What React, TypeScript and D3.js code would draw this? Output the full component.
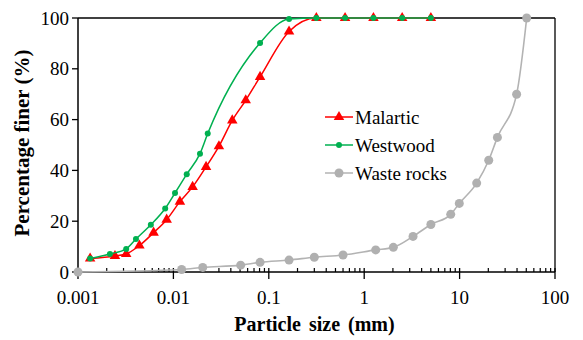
import * as d3 from 'd3'
import { useEffect, useRef } from 'react'

// particle size (mm) / percentage finer (%)
const malarticSize = [0.00134, 0.00244, 0.0032, 0.0044, 0.0062, 0.0085, 0.0117, 0.0159, 0.022, 0.03, 0.0414, 0.0573, 0.081, 0.163, 0.315, 0.63, 1.25, 2.5, 5]
const malarticPct = [5.3, 6.3, 7.1, 10.4, 15.5, 20.6, 27.7, 33.5, 41.4, 49.5, 59.7, 67.6, 76.8, 94.7, 100, 100, 100, 100, 100]

const westwoodSize = [0.00134, 0.00216, 0.0032, 0.00405, 0.0058, 0.0082, 0.0104, 0.0138, 0.019, 0.0229, 0.081, 0.163, 0.315, 0.63, 1.25, 2.5, 5]
const westwoodPct = [5.3, 7.1, 9.1, 13, 18.6, 25, 31.1, 38.5, 46.6, 54.5, 90.2, 99.6, 100, 100, 100, 100, 100]

const wasteSize = [0.001, 0.0122, 0.0203, 0.0507, 0.081, 0.163, 0.3, 0.6, 1.32, 2.02, 3.25, 5, 8.07, 9.93, 15.1, 20.2, 24.9, 39.6, 50.5]
const wastePct = [0, 1, 1.8, 2.7, 3.8, 4.7, 5.8, 6.7, 8.7, 9.7, 14, 18.7, 22.7, 27, 35, 44, 53, 70, 100]

const xTicks = [0.001, 0.01, 0.1, 1, 10, 100]
const xTickLabels = ['0.001', '0.01', '0.1', '1', '10', '100']
const yTicks = [0, 20, 40, 60, 80, 100]
const seriesNames = ['Malartic', 'Westwood', 'Waste rocks']

const W = 583
const H = 340

export default function App() {
  const ref = useRef<SVGSVGElement>(null)

  useEffect(() => {
    const svg = d3.select(ref.current)
    svg.selectAll('*').remove()

    const margin = { top: 18, right: 28, bottom: 68, left: 78 }
    const width = W - margin.left - margin.right
    const height = H - margin.top - margin.bottom
    const font = '"Liberation Serif"'

    const x = d3.scaleLog().domain([0.001, 100]).range([0, width])
    const y = d3.scaleLinear().domain([0, 100]).range([height, 0])

    const g = svg.append('g').attr('transform', `translate(${margin.left},${margin.top})`)

    // frame
    g.append('line').attr('x1', 0).attr('x2', width).attr('y1', 0).attr('y2', 0).attr('stroke', '#000').attr('stroke-width', 1.3)
    g.append('line').attr('x1', width).attr('x2', width).attr('y1', 0).attr('y2', height).attr('stroke', '#000').attr('stroke-width', 1.3)

    // minor x ticks (inside)
    const minor: number[] = []
    for (let e = -3; e < 2; e++) for (let m = 2; m <= 9; m++) minor.push(m * Math.pow(10, e))
    g.selectAll('.minor')
      .data(minor)
      .enter()
      .append('line')
      .attr('x1', (d) => x(d))
      .attr('x2', (d) => x(d))
      .attr('y1', height)
      .attr('y2', height - 4)
      .attr('stroke', '#000')
      .attr('stroke-width', 1.2)

    // major x ticks (cross)
    g.selectAll('.major')
      .data(xTicks)
      .enter()
      .append('line')
      .attr('x1', (d) => x(d))
      .attr('x2', (d) => x(d))
      .attr('y1', height - 4)
      .attr('y2', height + 7)
      .attr('stroke', '#000')
      .attr('stroke-width', 1.3)

    g.selectAll('.xlab')
      .data(xTicks)
      .enter()
      .append('text')
      .attr('x', (d) => x(d))
      .attr('y', height + 32)
      .attr('text-anchor', 'middle')
      .style('font-family', font)
      .style('font-size', '19px')
      .text((d, i) => xTickLabels[i])

    // y ticks
    g.selectAll('.ytick')
      .data(yTicks)
      .enter()
      .append('line')
      .attr('x1', -6)
      .attr('x2', 0)
      .attr('y1', (d) => y(d))
      .attr('y2', (d) => y(d))
      .attr('stroke', '#000')
      .attr('stroke-width', 1.3)

    g.selectAll('.ylab')
      .data(yTicks)
      .enter()
      .append('text')
      .attr('x', -9)
      .attr('y', (d) => y(d))
      .attr('dy', '0.35em')
      .attr('text-anchor', 'end')
      .style('font-family', font)
      .style('font-size', '19px')
      .text((d) => d)

    // axis lines
    g.append('line').attr('x1', 0).attr('x2', width).attr('y1', height).attr('y2', height).attr('stroke', '#000').attr('stroke-width', 1.5)
    g.append('line').attr('x1', 0).attr('x2', 0).attr('y1', 0).attr('y2', height).attr('stroke', '#000').attr('stroke-width', 1.5)

    const line = d3
      .line<[number, number]>()
      .x((d) => x(d[0]))
      .y((d) => y(d[1]))
      .curve(d3.curveMonotoneX)

    const zip = (a: number[], b: number[]) => a.map((v, i) => [v, b[i]] as [number, number])
    const waste = zip(wasteSize, wastePct)
    const westwood = zip(westwoodSize, westwoodPct)
    const malartic = zip(malarticSize, malarticPct)

    // waste rocks
    g.append('path').datum(waste).attr('d', line).attr('fill', 'none').attr('stroke', '#b3b3b3').attr('stroke-width', 1.6)
    g.selectAll('.wp')
      .data(waste)
      .enter()
      .append('circle')
      .attr('cx', (d) => x(d[0]))
      .attr('cy', (d) => y(d[1]))
      .attr('r', 4.5)
      .attr('fill', '#b0b0b0')

    // malartic
    g.append('path').datum(malartic).attr('d', line).attr('fill', 'none').attr('stroke', '#ff0000').attr('stroke-width', 1.5)
    const tri = d3.symbol().type(d3.symbolTriangle).size(48)
    g.selectAll('.mp')
      .data(malartic)
      .enter()
      .append('path')
      .attr('d', tri)
      .attr('transform', (d) => `translate(${x(d[0])},${y(d[1])})`)
      .attr('fill', '#ff0000')

    // westwood
    g.append('path').datum(westwood).attr('d', line).attr('fill', 'none').attr('stroke', '#00b050').attr('stroke-width', 1.5)
    g.selectAll('.wwp')
      .data(westwood)
      .enter()
      .append('circle')
      .attr('cx', (d) => x(d[0]))
      .attr('cy', (d) => y(d[1]))
      .attr('r', 3)
      .attr('fill', '#00b050')

    // legend
    const colors = ['#ff0000', '#00b050', '#b3b3b3']
    const leg = svg.append('g').attr('transform', 'translate(325,117)')
    seriesNames.forEach((name, i) => {
      const row = leg.append('g').attr('transform', `translate(0,${i * 28})`)
      row.append('line').attr('x1', 0).attr('x2', 28).attr('y1', 0).attr('y2', 0).attr('stroke', colors[i]).attr('stroke-width', 1.5)
      if (i === 0) row.append('path').attr('d', tri).attr('transform', 'translate(14,0)').attr('fill', colors[i])
      else row.append('circle').attr('cx', 14).attr('cy', 0).attr('r', i === 1 ? 3 : 4.5).attr('fill', i === 2 ? '#b0b0b0' : colors[i])
      row
        .append('text')
        .attr('x', 30)
        .attr('y', 0)
        .attr('dy', '0.35em')
        .style('font-family', font)
        .style('font-size', '19px')
        .text(name)
    })

    // axis titles
    svg
      .append('text')
      .attr('x', margin.left + width / 2 - 2)
      .attr('y', 331)
      .attr('text-anchor', 'middle')
      .style('font-family', font)
      .style('font-size', '20px')
      .style('font-weight', 'bold')
      .style('word-spacing', '3px')
      .text('Particle size (mm)')

    svg
      .append('text')
      .attr('transform', `translate(29,${margin.top + height / 2 - 2}) rotate(-90)`)
      .attr('text-anchor', 'middle')
      .style('font-family', font)
      .style('font-size', '21px')
      .style('font-weight', 'bold')
      .text('Percentage finer (%)')
  }, [])

  return <svg ref={ref} width={W} height={H} style={{ position: 'absolute', left: 0, top: 0, background: '#fff' }} />
}
